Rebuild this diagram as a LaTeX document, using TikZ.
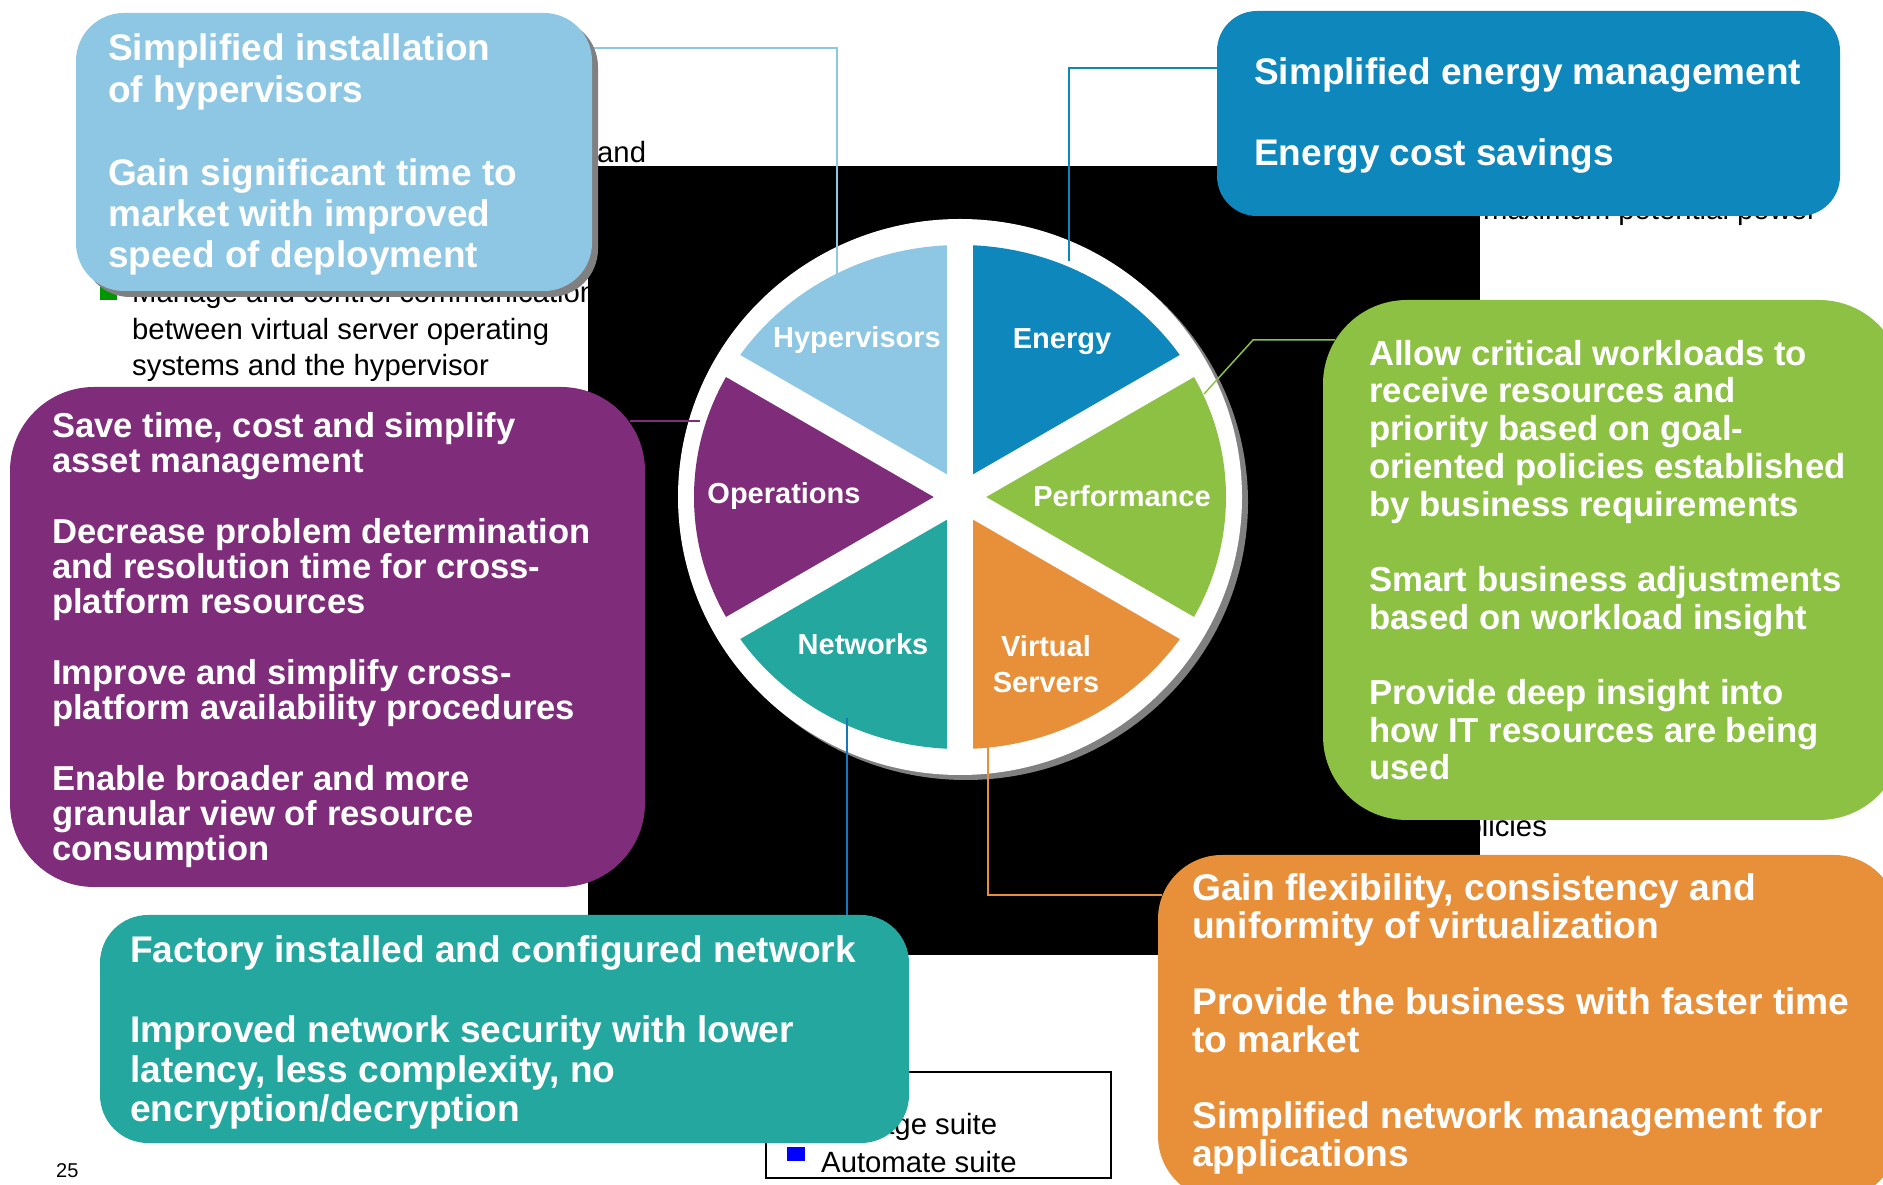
\documentclass[tikz,border=0pt]{standalone}
\usepackage{fontspec}
\setmainfont{Liberation Sans}
\definecolor{hypblue}{RGB}{141,199,228}
\definecolor{enerblue}{RGB}{13,135,188}
\definecolor{perfgreen}{RGB}{141,193,68}
\definecolor{virtorange}{RGB}{232,143,58}
\definecolor{netteal}{RGB}{36,167,159}
\definecolor{opspurple}{RGB}{127,44,123}
\definecolor{bulletgreen}{RGB}{0,150,0}

\begin{document}
\begin{tikzpicture}[x=1pt, y=1pt,
  panel/.style={anchor=north west, rounded corners=#1, inner sep=0pt, outer sep=0pt},
  boxtext/.style={anchor=base west, align=left, inner sep=0pt, text=white},
  slice/.style={text=white, align=center, inner sep=0pt, font=\bfseries\fontsize{29}{36}\selectfont},
  plain/.style={anchor=base west, inner sep=0pt, font=\fontsize{29.3}{36}\selectfont}]
\useasboundingbox (0,0) rectangle (1883,1184);

\node[plain] (andtxt) at (597,1021) {and};
\fill[bulletgreen] (100,884) rectangle (117,901);
\node[plain] (manage1) at (132,881) {Manage and control communication};
\node[plain] (manage2) at (132,844) {between virtual server operating};
\node[plain] (manage3) at (132,808) {systems and the hypervisor};
\node[plain] (maxpow) at (1483,964) {maximum potential power};
\node[plain] (policies) at (1449,347) {policies};

\fill[black] (588,229) rectangle (1480,1018);

\draw[line width=1.5pt, fill=white] (766,112) rectangle (1111,6);
\node[plain] (legend1) at (821,49) {Manage suite};
\fill[blue] (787,23) rectangle (805,37);
\node[plain] (legend2) at (821,12) {Automate suite};

\coordinate (c) at (960,687);
\fill[gray] (966,682) ellipse [x radius=282, y radius=278];
\fill[white] (c) ellipse [x radius=282, y radius=278];
\begin{scope}
\clip (c) ellipse [x radius=266, y radius=252];
\fill[enerblue] (c) -- ++(30:300) arc[start angle=30, end angle=90, radius=300] -- cycle;
\fill[hypblue] (c) -- ++(90:300) arc[start angle=90, end angle=150, radius=300] -- cycle;
\fill[opspurple] (c) -- ++(150:300) arc[start angle=150, end angle=210, radius=300] -- cycle;
\fill[netteal] (c) -- ++(210:300) arc[start angle=210, end angle=270, radius=300] -- cycle;
\fill[virtorange] (c) -- ++(270:300) arc[start angle=270, end angle=330, radius=300] -- cycle;
\fill[perfgreen] (c) -- ++(330:300) arc[start angle=330, end angle=390, radius=300] -- cycle;
\end{scope}
\foreach \a in {30,90,...,330}
  \draw[white, line width=26pt] (c) -- ++(\a:272);

\node[slice] (hyplabel) at (857,844) {Hypervisors};
\node[slice] (enerlabel) at (1062,842) {Energy};
\node[slice] (opslabel) at (784,688) {Operations};
\node[slice] (perflabel) at (1122,688) {Performance};
\node[slice] (netlabel) at (863,540) {Networks};
\node[slice] (virtlabel) at (1046,520) {Virtual\\Servers};

\coordinate (hypa) at (590,1136);
\coordinate (hypw) at (837,902);
\coordinate (enera) at (1220,1116);
\coordinate (enerw) at (1069,923);
\coordinate (perfa) at (1335,844);
\coordinate (perfb) at (1253,844);
\coordinate (perfw) at (1204,790);
\coordinate (opsa) at (630,763);
\coordinate (opsw) at (700,763);
\coordinate (netw) at (847,466);
\coordinate (neta) at (847,266);
\coordinate (virtw) at (988,439);
\coordinate (virta) at (1162,289);

\draw[hypblue, line width=1.5pt] (hypa) -| (hypw);
\draw[enerblue, line width=1.5pt] (enera) -| (enerw);
\draw[perfgreen, line width=1.5pt] (perfa) -- (perfb) -- (perfw);
\draw[opspurple, line width=1.5pt] (opsa) -- (opsw);
\draw[netteal!70!blue, line width=1.5pt] (netw) -- (neta);
\draw[virtorange, line width=1.5pt] (virtw) |- (virta);

\node[panel=48pt, fill=gray, minimum width=516pt, minimum height=278pt] (hypshadow) at (82,1165) {};
\node[panel=48pt, fill=hypblue, minimum width=516pt, minimum height=278pt] (hyp) at (76,1171) {};
\node[panel=40pt, fill=enerblue, minimum width=623pt, minimum height=205pt] (energy) at (1217,1173) {};
\node[panel=84pt, fill=perfgreen, minimum width=580pt, minimum height=520pt] (perf) at (1323,884) {};
\node[panel=84pt, fill=opspurple, minimum width=635pt, minimum height=500pt] (ops) at (10,797) {};
\node[panel=48pt, fill=netteal, minimum width=809pt, minimum height=228pt] (net) at (100,269) {};
\node[panel=64pt, fill=virtorange, minimum width=740pt, minimum height=345pt] (virt) at (1158,329) {};

\node[boxtext, font=\bfseries\fontsize{37}{41.4}\selectfont] (hyptext) at (108,916)
  {Simplified installation\\of hypervisors\\[41.4pt]Gain significant time to\\market with improved\\speed of deployment};
\node[boxtext, font=\bfseries\fontsize{37}{40.5}\selectfont] (enertext) at (1254,1018)
  {Simplified energy management\\[40.5pt]Energy cost savings};
\node[boxtext, font=\bfseries\fontsize{34.7}{37.7}\selectfont] (perftext) at (1369,404)
  {Allow critical workloads to\\receive resources and\\priority based on goal-\\oriented policies established\\by business requirements\\[37.7pt]Smart business adjustments\\based on workload insight\\[37.7pt]Provide deep insight into\\how IT resources are being\\used};
\node[boxtext, font=\bfseries\fontsize{34.6}{35.3}\selectfont] (opstext) at (52,323)
  {Save time, cost and simplify\\asset management\\[35.3pt]Decrease problem determination\\and resolution time for cross-\\platform resources\\[35.3pt]Improve and simplify cross-\\platform availability procedures\\[35.3pt]Enable broader and more\\granular view of resource\\consumption};
\node[boxtext, font=\bfseries\fontsize{37.1}{39.9}\selectfont] (nettext) at (130,62)
  {Factory installed and configured network\\[39.9pt]Improved network security with lower\\latency, less complexity, no\\encryption/decryption};
\node[boxtext, font=\bfseries\fontsize{37.2}{38.1}\selectfont] (virttext) at (1192,17)
  {Gain flexibility, consistency and\\uniformity of virtualization\\[38.1pt]Provide the business with faster time\\to market\\[38.1pt]Simplified network management for\\applications};

\node[anchor=base west, inner sep=0pt, font=\fontsize{20}{24}\selectfont] (pagenum) at (56,6) {25};
\end{tikzpicture}
\end{document}
